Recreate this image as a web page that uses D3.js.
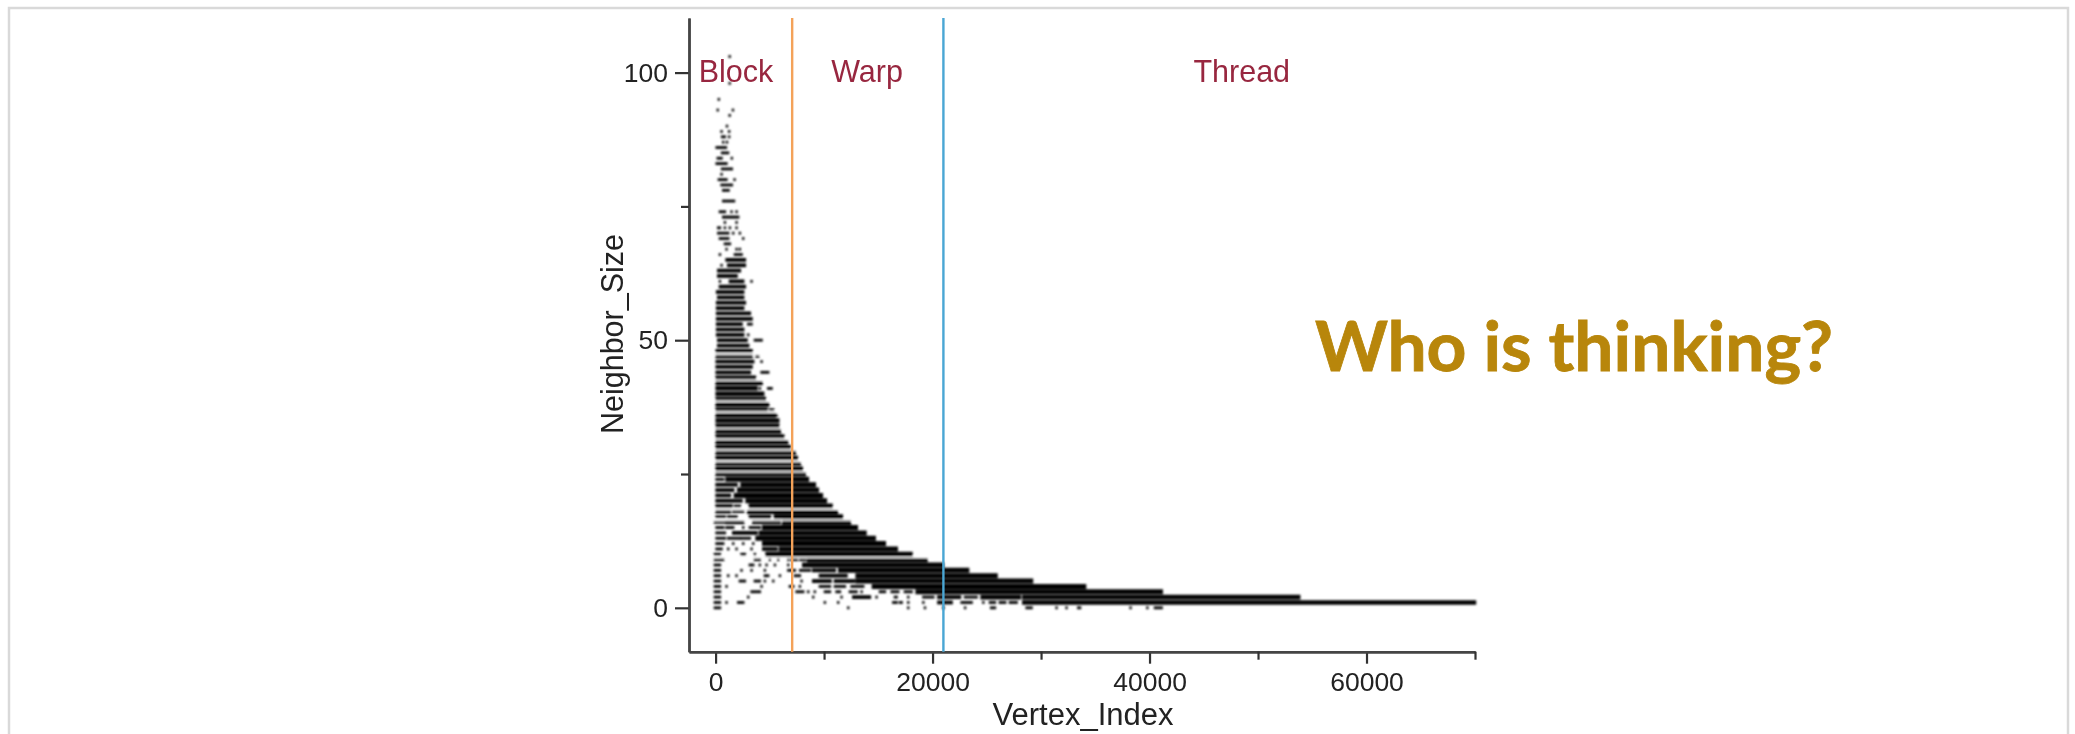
<!DOCTYPE html>
<html><head><meta charset="utf-8">
<script src="https://cdn.jsdelivr.net/npm/d3@7/dist/d3.min.js"></script>
<style>html,body{margin:0;padding:0;background:#fff;overflow:hidden}</style>
</head><body><svg id="c" width="2075" height="734"></svg>
<script>
// Each row: [Neighbor_Size, from, to, from, to, ...] in Vertex_Index units
const topRows = [
 [103,1300,1300],[98,1300,1300],[95,300,300],[93,200,200],[93,1600,1600],[92,1300,1300],
 [90,1050,1050],[89,550,550],[89,1250,1250],[88,600,850],[88,1250,1250],[87,700,700],[87,1050,1050],
 [86,100,950],[85,600,1150],[84,200,550],[84,1500,1500],[83,100,1000],[82,600,1500],[81,550,550],
 [80,300,1000],[80,1750,1750],[79,550,1500],[78,700,1200],[76,700,1700],
 [74,400,860],[74,1470,1470],[74,1935,1935],[73,700,2085],[72,860,860],[72,1935,1935],
 [71,240,400],[71,860,860],[71,1320,1320],[71,1935,1935],[70,240,1165],[70,1625,1625],[70,2240,2240],
 [69,400,1165],[69,2545,2545],[68,860,1320],[67,1010,1010],[67,1935,1935],[67,2240,2240],
 [66,400,400],[66,1780,2400],[65,1010,2700],[64,550,550],[64,1165,2700],[63,240,2240],[62,240,1935],
 [61,400,400],[61,1320,2545],[61,3315,3315],[60,400,2700],[59,140,2545],[58,240,2545],[57,140,2700],
 [56,140,2545],[55,140,3160],[54,140,3315],[53,140,2393],[53,3008,3315],[52,140,2547],[51,140,2547],[51,3008,3008],
 [50,240,2854],[50,3625,4240],[49,240,3008]
];
const midRows = [
 [48,100,3315],[47,100,3315],[47,3776,3930],[46,100,3469],[46,4240,4240],[45,100,3315],
 [44,100,3160],[44,4240,4850],[43,100,3625],[42,100,4240],[41,100,3776],[41,4083,4083],[41,4850,5160],
 [40,100,4390],[39,100,4545],[38,100,4850],[37,100,4700],[37,5000,5310],[36,100,5470],[36,5620,5620],
 [35,100,5780],[34,100,5780],[33,100,5930],[32,100,6240],[31,100,6600],[30,100,6850],
 [29,100,7310],[28,100,7490],[27,100,7770],[26,100,7950],[25,90,8230],
 [24,90,703,1010,8510],[23,90,1932,2393,9150],[22,90,1625,2086,9430],[21,90,1318,1780,9800],
 [20,90,2393,2854,10170],[19,90,1470,1780,2240,3160,10690],[18,90,1318,1625,2547,3008,11180],
 [17,90,857,1165,1932,3160,5005,5466,11640],[16,-65,857,1010,2547,3469,5927,6234,12380],
 [15,90,703,1010,1625,2547,2547,3160,4083,4390,13020],[14,90,857,1625,3776,4083,13820],
 [13,90,857,1165,2240,2393,3160,3776,14670],[12,90,703,1625,1625,2547,2547,3469,3469,4390,15600],
 [11,90,550,1165,1165,1932,1932,3315,3315,4390,5620,5927,16700],[10,-65,396,2393,2700,3622,3622,4698,18060]
];
const lowRows = [
 [9,-65,700,3620,4080,5005,5005,5775,5775,6700,6700,7000,7500,7800,8300,8540,19450],
 [8,-65,400,3160,3470,4080,4080,4700,4700,5470,5470,6700,6700,8080,20950],
 [7,-65,400,2390,2390,3320,3320,4545,4545,6700,7300,7800,8700,9000,11000,11400,23280],
 [6,-65,400,1165,1165,1930,1930,4545,4850,5930,5930,7310,7770,9615,12070,13000,25900],
 [5,-65,400,2240,2700,3620,4080,4545,4545,5315,5315,7925,7925,9000,10600,11000,12800,13000,29170],
 [4,-65,400,1010,1010,4240,4240,6850,7160,7770,7770,9615,10540,11000,11920,12535,13610,14500,34060],
 [3,-65,400,3320,4080,7465,8080,8540,8540,9150,9150,10080,10540,11150,11460,12380,12995,13460,13460,15150,15610,16230,16840,17450,18070,18530,41130],
 [2,-65,400,3010,3010,9000,9000,11610,11610,12690,14225,14840,14840,16530,16690,17760,17760,19150,20070,20530,22530,22990,24060,24520,28060,28360,53800],
 [1,-65,400,1010,1010,2087,2550,10075,10075,11300,11300,16380,16690,17000,17150,17760,17760,19150,19150,20530,21760,22680,23600,24680,24680,25290,25750,26200,26700,27130,27750,28360,70000],
 [0,-65,400,12230,12230,17760,17760,19300,19300,21000,21000,23000,23000,25400,25750,28670,29130,31430,31430,32350,32350,33430,33600,38250,38250,39800,39800,40500,41120]
];
const bandGaps = [47.4,42.5,38.6,36.6,33.5,31.5,29.5,27.4,25.4,18.4,16.4,9.4];
const xMajorTicks = [0,20000,40000,60000];
const xMinorTicks = [10000,30000,50000,70000];
const yMajorTicks = [0,50,100];
const yMinorTicks = [25,75];
const phaseBreaks = [7060,21000];
const phaseColors = ["#f4a259","#4aa6d4"];
const phaseLabels = ["Block","Warp","Thread"];
const phaseLabelX = [1880,13960,48500];

const svg = d3.select("#c");
const x = d3.scaleLinear().domain([-2450,70000]).range([689,1475]);
const y = d3.scaleLinear().domain([-8.2,110.2]).range([651.7,18]);

const defs = svg.append("defs");
defs.append("filter").attr("id","soft").attr("filterUnits","userSpaceOnUse")
  .attr("x",650).attr("y",0).attr("width",900).attr("height",660)
  .append("feGaussianBlur").attr("stdDeviation",0.85);
defs.append("filter").attr("id","softer").attr("filterUnits","userSpaceOnUse")
  .attr("x",560).attr("y",0).attr("width",1000).attr("height",734)
  .append("feGaussianBlur").attr("stdDeviation",0.45);

// slide frame
svg.append("path").attr("d","M9,734V8H2068V734").attr("fill","none").attr("stroke","#d9d9d9").attr("stroke-width",2.5);

const plot = svg.append("g").attr("filter","url(#soft)");
const segs = [];
[["top",topRows],["mid",midRows],["low",lowRows]].forEach(([k,rows])=>rows.forEach(r=>{
  for(let i=1;i<r.length;i+=2) segs.push({k,n:r[0],a:r[i],b:r[i+1]});
}));
function rowHeight(d){
  if(d.b-d.a<1200) return 2.8;
  if(d.k==="top") return d.n<66?3.8:3;
  if(d.b-d.a<3500) return 3.8;
  if(d.n>24) return 4.5;
  return d.n<3?4.6:5;
}
plot.selectAll("line.s").data(segs).join("line").attr("class","s")
  .attr("x1",d=>x(d.a)-1.2).attr("x2",d=>x(d.b)+1.2)
  .attr("y1",d=>y(d.n)).attr("y2",d=>y(d.n))
  .attr("stroke","#000").attr("stroke-width",rowHeight);
plot.selectAll("line.g").data(bandGaps).join("line").attr("class","g")
  .attr("x1",x(-400)).attr("x2",d=>x(d>30?7000:20000))
  .attr("y1",d=>y(d)).attr("y2",d=>y(d)).attr("stroke","#fff").attr("stroke-width",1.5);

const axes = svg.append("g").attr("filter","url(#softer)");
const font = "'Liberation Sans',Arial,sans-serif";
function style(g){
  g.selectAll(".domain").attr("stroke","#444").attr("stroke-width",2.4);
  g.selectAll(".tick line").attr("stroke","#333").attr("stroke-width",2.2);
  g.selectAll("text").attr("font-family",font).attr("font-size",26.5).attr("fill","#222");
}
axes.append("g").attr("transform",`translate(0,${y.range()[0]})`)
  .call(d3.axisBottom(x).tickValues(xMajorTicks).tickSize(12).tickSizeOuter(0).tickFormat(d3.format("d")).tickPadding(8)).call(style);
axes.append("g").attr("transform",`translate(0,${y.range()[0]})`)
  .call(d3.axisBottom(x).tickValues(xMinorTicks).tickSize(8).tickSizeOuter(0).tickFormat("")).call(style);
axes.append("g").attr("transform",`translate(${x.range()[0]},0)`)
  .call(d3.axisLeft(y).tickValues(yMajorTicks).tickSize(14).tickSizeOuter(0).tickPadding(7)).call(style);
axes.append("g").attr("transform",`translate(${x.range()[0]},0)`)
  .call(d3.axisLeft(y).tickValues(yMinorTicks).tickSize(8).tickSizeOuter(0).tickFormat("")).call(style);

svg.selectAll("line.p").data(phaseBreaks).join("line").attr("class","p")
  .attr("x1",d=>x(d)).attr("x2",d=>x(d)).attr("y1",y.range()[1]).attr("y2",y.range()[0])
  .attr("stroke",(d,i)=>phaseColors[i]).attr("stroke-width",2.4);

axes.selectAll("text.ph").data(phaseLabels).join("text").attr("class","ph")
  .attr("x",(d,i)=>x(phaseLabelX[i])).attr("y",81.5).attr("text-anchor","middle")
  .attr("font-family",font).attr("font-size",30.5).attr("fill","#98283f").text(d=>d);
axes.append("text").attr("x",1083).attr("y",725).attr("text-anchor","middle")
  .attr("font-family",font).attr("font-size",31).attr("fill","#222").text("Vertex_Index");
axes.append("text").attr("transform","translate(623,334) rotate(-90)").attr("text-anchor","middle")
  .attr("font-family",font).attr("font-size",30.5).attr("fill","#222").text("Neighbor_Size");

svg.append("text").attr("x",1574).attr("y",371).attr("text-anchor","middle")
  .attr("font-family","Lato,'Open Sans',sans-serif").attr("font-weight",700).attr("font-size",69.5)
  .attr("fill","#b8860b").attr("stroke","#b8860b").attr("stroke-width",0.8).text("Who is thinking?");
</script></body></html>
